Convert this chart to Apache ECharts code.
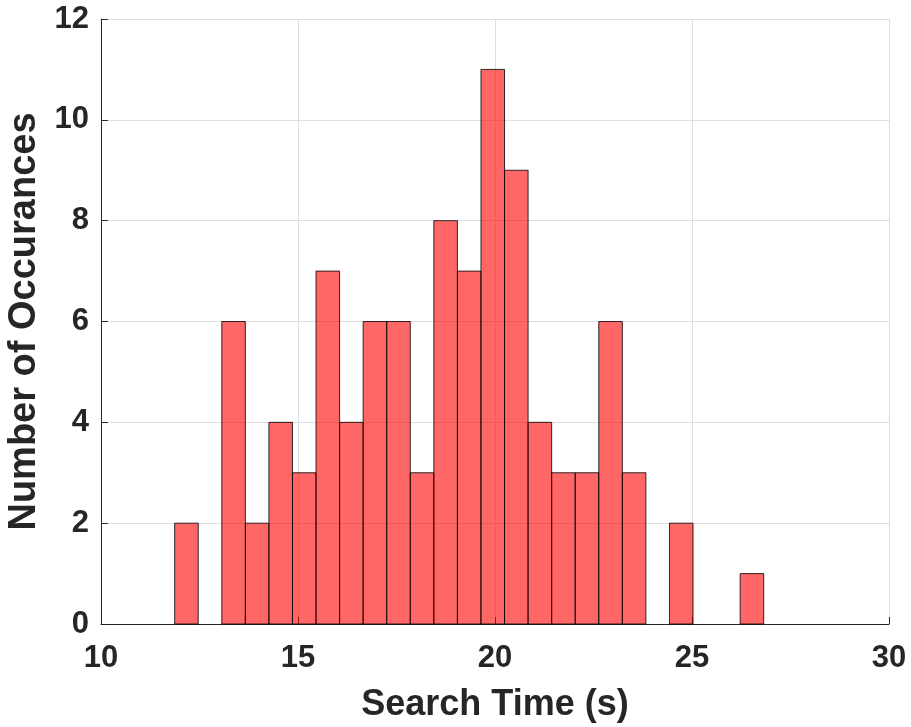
<!DOCTYPE html>
<html>
<head>
<meta charset="utf-8">
<script src="https://cdn.jsdelivr.net/npm/echarts@6/dist/echarts.min.js"></script>
<style>
    html, body { margin: 0; padding: 0; background: #fff; }
    #chart { width: 911px; height: 727px; }
</style>
</head>
<body>
<div id="chart"></div>
<script>
    // histogram bins: first edge, bin width, counts per bin
    let binStart = 11.87
    let binWidth = 0.598
    let counts = [2, 0, 6, 2, 4, 3, 7, 4, 6, 6, 3, 8, 7, 11, 9, 4, 3, 3, 6, 3, 0, 2, 0, 0, 1]
    let xTicks = [10, 15, 20, 25, 30]
    let yTicks = [0, 2, 4, 6, 8, 10, 12]

    let bins = []
    for (let i = 0; i < counts.length; i++) {
        let lo = binStart + i * binWidth
        bins.push([lo, lo + binWidth, counts[i]])
    }

    let textColor = '#262626'
    let font = 'Liberation Sans'

    let option = {
        animation: false,
        backgroundColor: '#fff',
        grid: {
            left: 101,
            right: 22,
            top: 19,
            bottom: 103,
            outerBoundsMode: 'none'
        },
        xAxis: {
            type: 'value',
            min: xTicks[0],
            max: xTicks[xTicks.length - 1],
            interval: 5,
            name: 'Search Time (s)',
            nameLocation: 'middle',
            nameGap: 63,
            nameTextStyle: {color: textColor, fontSize: 36, fontWeight: 'bold', fontFamily: font},
            axisLine: {show: true, onZero: false, lineStyle: {color: textColor, width: 1}},
            axisTick: {show: true, inside: true, length: 7, lineStyle: {color: textColor}},
            axisLabel: {color: textColor, fontSize: 31, fontWeight: 'bold', fontFamily: font, margin: 19},
            splitLine: {show: true, lineStyle: {color: '#dedede', width: 1}}
        },
        yAxis: {
            type: 'value',
            min: yTicks[0],
            max: yTicks[yTicks.length - 1],
            interval: 2,
            name: 'Number of Occurances',
            nameLocation: 'middle',
            nameGap: 55,
            nameTextStyle: {color: textColor, fontSize: 38, fontWeight: 'bold', fontFamily: font},
            axisLine: {show: true, lineStyle: {color: textColor, width: 1}},
            axisTick: {show: true, inside: true, length: 7, lineStyle: {color: textColor}},
            axisLabel: {color: textColor, fontSize: 31, fontWeight: 'bold', fontFamily: font, margin: 12},
            splitLine: {show: true, lineStyle: {color: '#dedede', width: 1}}
        },
        series: [{
            type: 'custom',
            data: bins,
            encode: {x: [0, 1], y: 2},
            renderItem: function (params, api) {
                let count = api.value(2)
                if (count <= 0) {
                    return null
                }
                let p0 = api.coord([api.value(0), count])
                let p1 = api.coord([api.value(1), 0])
                return {
                    type: 'rect',
                    shape: {x: p0[0], y: p0[1], width: p1[0] - p0[0], height: p1[1] - p0[1]},
                    style: {
                        fill: 'rgba(255, 0, 0, 0.6)',
                        stroke: 'rgba(0, 0, 0, 0.8)',
                        lineWidth: 1
                    }
                }
            }
        }]
    }

    let myChart = echarts.init(document.getElementById('chart'))
    myChart.setOption(option)
</script>
</body>
</html>
